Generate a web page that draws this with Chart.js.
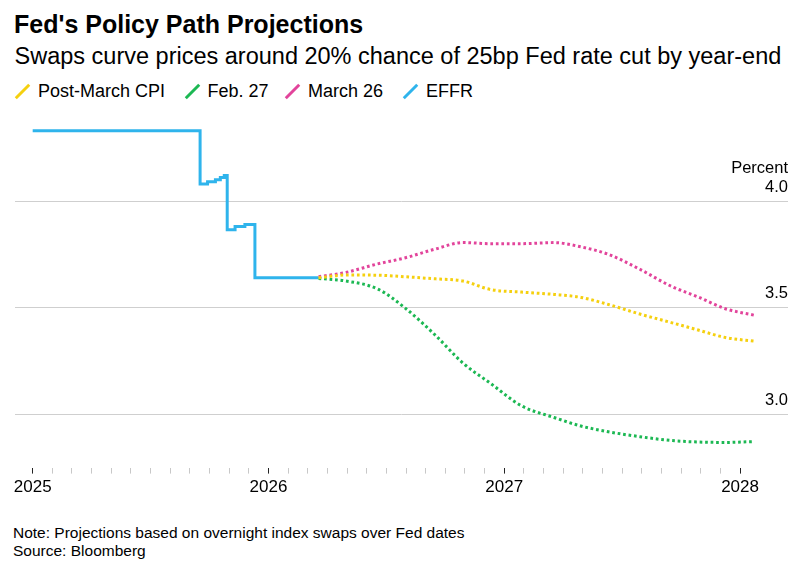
<!DOCTYPE html>
<html>
<head>
<meta charset="utf-8">
<script src="https://cdn.jsdelivr.net/npm/chart.js@4.4.1/dist/chart.umd.min.js"></script>
<style>
  body { margin: 0; background: #fff; font-family: 'Liberation Sans', Arial, sans-serif; color: #000; }
  #page { position: relative; width: 801px; height: 571px; overflow: hidden; }
  .txt { position: absolute; white-space: nowrap; }
  #title { left: 14px; top: 12px; font-size: 25px; line-height: 25px; font-weight: bold; }
  #subtitle { left: 14.5px; top: 45px; font-size: 23.5px; line-height: 23.5px; }
  .leg { top: 81.5px; font-size: 18px; line-height: 18px; }
  .mark { position: absolute; width: 3px; height: 19px; top: 82px; transform: rotate(45deg); }
  #note { left: 13px; top: 525px; font-size: 15.5px; line-height: 15.5px; }
  #source { left: 13px; top: 543px; font-size: 15.5px; line-height: 15.5px; }
  #wrap { position: absolute; left: 0; top: 100px; width: 801px; height: 410px; }
</style>
</head>
<body>
<div id="page">
  <div class="txt" id="title">Fed's Policy Path Projections</div>
  <div class="txt" id="subtitle">Swaps curve prices around 20% chance of 25bp Fed rate cut by year-end</div>

  <div class="mark" style="left:21px; background:#f5d00f;"></div>
  <div class="txt leg" style="left:38px;">Post-March CPI</div>
  <div class="mark" style="left:190.5px; background:#1cb853;"></div>
  <div class="txt leg" style="left:207.5px;">Feb. 27</div>
  <div class="mark" style="left:291px; background:#e2449b;"></div>
  <div class="txt leg" style="left:308px;">March 26</div>
  <div class="mark" style="left:409px; background:#2fb4ec;"></div>
  <div class="txt leg" style="left:426px;">EFFR</div>

  <div id="wrap"><canvas id="fedpath"></canvas></div>

  <div class="txt" id="note">Note: Projections based on overnight index swaps over Fed dates</div>
  <div class="txt" id="source">Source: Bloomberg</div>
</div>

<script>
// x values are months since Jan 2025
var yearLabels = ['2025', '2026', '2027', '2028'];

// EFFR, each value holds from its month until the next one
var effrMonths = [0, 8.52, 8.9, 9.3, 9.55, 9.75, 9.9, 10.3, 10.8, 11.31, 14.55];
var effrValues = [4.33, 4.08, 4.09, 4.10, 4.11, 4.12, 3.865, 3.88, 3.89, 3.64, 3.64];

// projections at Fed meeting dates
var fedMonths = [14.55, 15.93, 17.55, 18.93, 20.5, 21.9, 23.3, 24.87, 26.53, 27.9, 29.3, 30.9, 32.5, 33.87, 35.25, 36.7];
var postMarchCpi = [3.64, 3.653, 3.652, 3.645, 3.635, 3.625, 3.585, 3.573, 3.562, 3.548, 3.515, 3.47, 3.43, 3.395, 3.36, 3.343];
var feb27 = [3.637, 3.625, 3.588, 3.50, 3.37, 3.24, 3.145, 3.04, 2.985, 2.945, 2.918, 2.895, 2.877, 2.87, 2.868, 2.872];
var march26 = [3.645, 3.665, 3.705, 3.733, 3.775, 3.805, 3.80, 3.80, 3.805, 3.785, 3.75, 3.68, 3.60, 3.55, 3.495, 3.465];

function pts(xs, ys) {
    return xs.map(function (x, i) { return { x: x, y: ys[i] }; });
}

var monthTicks = [];
for (var m = 0; m <= 36; m++) monthTicks.push({ value: m });

Chart.defaults.font.family = "'Liberation Sans', Arial, sans-serif";
Chart.defaults.color = '#000';

var dotted = {
    borderWidth: 3,
    borderDash: [2.7, 2.8],
    borderCapStyle: 'butt',
    pointRadius: 0,
    fill: false,
    cubicInterpolationMode: 'monotone'
};

// "Percent" unit label above the 4.0 tick
var unitLabel = {
    id: 'unitLabel',
    afterDraw: function (chart) {
        var ctx = chart.ctx, y = chart.scales.y;
        ctx.save();
        ctx.font = '16.5px ' + Chart.defaults.font.family;
        ctx.fillStyle = '#000';
        ctx.textAlign = 'right';
        ctx.textBaseline = 'alphabetic';
        ctx.fillText('Percent', chart.chartArea.right, y.getPixelForValue(4.0) - 28.5);
        ctx.restore();
    }
};

var ctx = document.getElementById('fedpath').getContext('2d');
var fedpath = new Chart(ctx, {
    type: 'line',
    data: {
        datasets: [
            Object.assign({ label: 'Post-March CPI', data: pts(fedMonths, postMarchCpi), borderColor: '#f5d00f' }, dotted),
            Object.assign({ label: 'Feb. 27', data: pts(fedMonths, feb27), borderColor: '#1cb853' }, dotted),
            Object.assign({ label: 'March 26', data: pts(fedMonths, march26), borderColor: '#e2449b' }, dotted),
            {
                label: 'EFFR',
                data: pts(effrMonths, effrValues),
                borderColor: '#2fb4ec',
                borderWidth: 3,
                pointRadius: 0,
                fill: false,
                stepped: true
            }
        ]
    },
    options: {
        responsive: true,
        maintainAspectRatio: false,
        animation: false,
        layout: { padding: { left: 15, right: 13, top: 15.7, bottom: 12.4 } },
        plugins: { legend: { display: false }, tooltip: { enabled: false } },
        scales: {
            x: {
                type: 'linear',
                min: -0.9,
                max: 38.44,
                afterBuildTicks: function (s) { s.ticks = monthTicks.slice(); },
                afterFit: function (s) { s.height = 30; },
                border: { display: false },
                grid: {
                    drawOnChartArea: false,
                    tickLength: 6,
                    tickWidth: 1,
                    tickColor: function (c) {
                        return c.tick && c.tick.value % 12 === 0 ? '#222' : '#c8c8c8';
                    }
                },
                ticks: {
                    autoSkip: false,
                    maxRotation: 0,
                    padding: 3.5,
                    font: { size: 17 },
                    callback: function (v) {
                        return v % 12 === 0 ? yearLabels[v / 12] : '';
                    }
                }
            },
            y: {
                position: 'right',
                min: 2.75,
                max: 4.4,
                border: { display: false },
                grid: { color: '#cfcfcf', lineWidth: 1, drawTicks: false },
                ticks: {
                    mirror: true,
                    padding: 0,
                    labelOffset: -14,
                    stepSize: 0.5,
                    includeBounds: false,
                    font: { size: 16.5 },
                    callback: function (v) { return v.toFixed(1); }
                }
            }
        }
    },
    plugins: [unitLabel]
});
</script>
</body>
</html>
